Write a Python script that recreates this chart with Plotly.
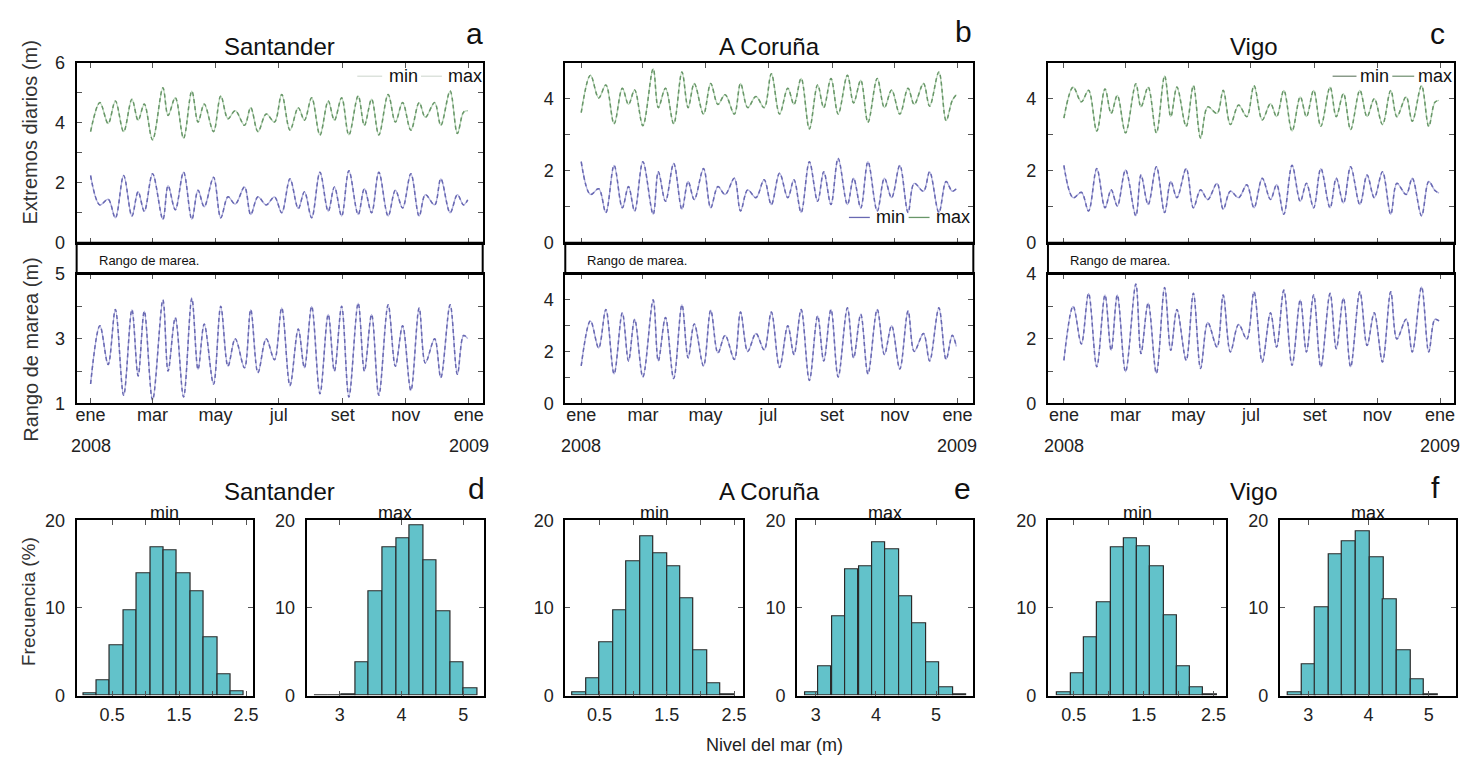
import plotly.graph_objects as go

W, H = 1463, 767
FONT = "Liberation Sans, Arial, sans-serif"

# Turning points of the daily extremes (spring / neap tides), 2008
turn_dates = [
    "2008-01-01", "2008-01-10", "2008-01-18", "2008-01-25", "2008-02-02", "2008-02-10",
    "2008-02-16", "2008-02-22", "2008-03-01", "2008-03-11", "2008-03-16", "2008-03-23",
    "2008-03-31", "2008-04-08", "2008-04-14", "2008-04-20", "2008-04-29", "2008-05-06",
    "2008-05-13", "2008-05-20", "2008-05-29", "2008-06-04", "2008-06-11", "2008-06-19",
    "2008-06-27", "2008-07-04", "2008-07-12", "2008-07-20", "2008-07-26", "2008-08-02",
    "2008-08-10", "2008-08-18", "2008-08-24", "2008-08-31", "2008-09-07", "2008-09-16",
    "2008-09-22", "2008-09-29", "2008-10-06", "2008-10-15", "2008-10-22", "2008-10-29",
    "2008-11-06", "2008-11-14", "2008-11-20", "2008-11-29", "2008-12-05", "2008-12-14",
    "2008-12-21", "2008-12-27", "2008-12-31",
]

# Daily high water (m)
santander_max = [3.70, 4.67, 3.97, 4.72, 3.70, 4.78, 4.08, 4.62, 3.43, 5.16,
                 4.24, 4.83, 3.48, 5.05, 4.02, 4.62, 3.70, 4.89, 4.13, 4.40,
                 3.91, 4.50, 3.70, 4.29, 4.02, 4.94, 3.75, 4.50, 4.08, 4.83,
                 3.59, 4.72, 4.08, 4.83, 3.59, 4.89, 3.91, 4.78, 3.59, 4.94,
                 4.02, 4.67, 3.75, 4.67, 4.18, 4.67, 3.91, 5.05, 3.64, 4.35, 4.40]
coruna_max = [3.61, 4.65, 4.02, 4.38, 3.30, 4.29, 3.84, 4.24, 3.25, 4.83,
              3.75, 4.29, 3.30, 4.74, 3.75, 4.42, 3.57, 4.42, 3.84, 4.11,
              3.57, 4.42, 3.75, 4.06, 3.75, 4.69, 3.57, 4.29, 3.84, 4.56,
              3.16, 4.38, 3.75, 4.56, 3.57, 4.65, 3.88, 4.51, 3.34, 4.56,
              3.75, 4.24, 3.57, 4.29, 3.84, 4.42, 3.79, 4.74, 3.39, 3.95, 4.11]
vigo_max = [3.46, 4.32, 3.91, 4.23, 3.10, 4.27, 3.59, 4.09, 3.05, 4.41,
            3.77, 4.32, 3.05, 4.63, 3.50, 4.32, 3.23, 4.36, 2.91, 3.77,
            3.59, 4.23, 3.28, 3.82, 3.50, 4.36, 3.41, 3.86, 3.50, 4.23,
            3.10, 4.05, 3.50, 4.23, 3.23, 4.32, 3.50, 4.14, 3.14, 4.23,
            3.50, 4.00, 3.28, 4.23, 3.50, 4.05, 3.37, 4.36, 3.23, 3.90, 3.95]

# Daily low water (m)
santander_min = [2.24, 1.26, 1.45, 0.83, 2.24, 0.89, 1.70, 1.05, 2.30, 0.78,
                 1.90, 1.10, 2.35, 0.78, 1.75, 1.20, 2.18, 0.83, 1.53, 1.29,
                 1.86, 0.94, 1.53, 1.26, 1.53, 1.00, 2.13, 1.14, 1.70, 0.83,
                 2.35, 1.05, 1.86, 0.89, 2.40, 0.94, 1.80, 1.00, 2.35, 0.89,
                 1.75, 1.16, 2.30, 0.89, 1.60, 1.26, 2.13, 1.00, 1.60, 1.26, 1.43]
coruna_min = [2.25, 1.34, 1.50, 0.84, 2.15, 0.97, 1.56, 0.88, 2.25, 0.79,
              1.97, 1.15, 2.20, 0.93, 1.70, 1.20, 2.06, 0.97, 1.56, 1.34,
              1.79, 0.88, 1.47, 1.25, 1.75, 1.06, 1.93, 1.25, 1.75, 0.84,
              2.25, 1.15, 1.97, 1.06, 2.34, 1.06, 1.79, 0.97, 2.25, 0.88,
              1.79, 1.25, 2.15, 0.84, 1.65, 1.43, 1.97, 0.84, 1.70, 1.43, 1.50]
vigo_min = [2.15, 1.25, 1.40, 0.88, 2.06, 0.97, 1.47, 1.02, 2.02, 0.75,
            1.88, 1.06, 2.11, 0.84, 1.70, 1.25, 2.06, 0.97, 1.47, 1.20,
            1.65, 0.93, 1.43, 1.25, 1.61, 0.97, 1.79, 1.20, 1.61, 0.79,
            2.15, 1.15, 1.65, 0.97, 2.06, 0.97, 1.79, 1.10, 2.11, 1.06,
            1.88, 1.25, 1.97, 0.79, 1.65, 1.34, 1.79, 0.75, 1.70, 1.45, 1.38]

# Daily tidal range (m)
santander_range = [1.60, 3.40, 2.20, 3.90, 1.25, 3.90, 1.85, 3.85, 1.10, 4.20,
                   2.00, 3.65, 1.20, 4.25, 2.05, 3.45, 1.60, 4.00, 2.15, 3.00,
                   2.10, 3.90, 1.95, 3.00, 2.35, 3.95, 1.55, 3.30, 2.10, 4.00,
                   1.30, 3.75, 2.00, 4.00, 1.20, 4.10, 2.00, 3.75, 1.25, 4.05,
                   2.15, 3.40, 1.40, 3.95, 2.25, 3.00, 1.80, 4.05, 1.90, 3.10, 3.00]
coruna_range = [1.45, 3.19, 2.14, 3.63, 1.14, 3.50, 1.64, 3.25, 1.02, 4.00,
                1.64, 3.32, 0.96, 3.81, 1.76, 3.07, 1.45, 3.60, 1.95, 2.63,
                1.70, 3.53, 2.01, 2.70, 2.07, 3.53, 1.39, 3.00, 1.89, 3.63,
                0.89, 3.38, 1.64, 3.63, 1.02, 3.69, 1.76, 3.44, 1.14, 3.63,
                1.89, 3.00, 1.33, 3.57, 2.01, 2.70, 1.64, 3.69, 1.70, 2.63, 2.20]
vigo_range = [1.33, 3.00, 1.84, 3.40, 1.13, 3.35, 1.64, 3.35, 0.98, 3.69,
              1.54, 3.10, 0.93, 3.58, 1.64, 2.90, 1.33, 3.40, 1.08, 2.50,
              1.74, 3.35, 1.59, 2.44, 1.99, 3.45, 1.28, 2.80, 1.74, 3.50,
              1.18, 3.20, 1.59, 3.35, 1.13, 3.40, 1.69, 3.25, 1.13, 3.45,
              1.79, 2.80, 1.28, 3.45, 1.99, 2.60, 1.59, 3.60, 1.59, 2.60, 2.55]

# Histograms of the daily extremes: bin centres (m) and frequency (%)
santander_min_bins = [0.17, 0.37, 0.57, 0.77, 0.97, 1.17, 1.37, 1.57, 1.77, 1.97, 2.17, 2.37]
santander_min_freq = [0.3, 1.8, 5.7, 9.7, 14.0, 16.9, 16.6, 14.0, 11.9, 6.6, 2.4, 0.45]
santander_max_bins = [2.70, 2.92, 3.14, 3.36, 3.58, 3.80, 4.02, 4.24, 4.46, 4.68, 4.90, 5.12]
santander_max_freq = [0.05, 0.05, 0.15, 3.8, 11.9, 16.9, 17.9, 19.4, 15.4, 9.6, 3.8, 0.8]
coruna_min_bins = [0.20, 0.40, 0.60, 0.80, 1.00, 1.20, 1.40, 1.60, 1.80, 2.00, 2.20, 2.40]
coruna_min_freq = [0.4, 2.0, 6.1, 9.7, 15.3, 18.2, 16.2, 14.7, 11.1, 5.2, 1.4, 0.2]
coruna_max_bins = [2.93, 3.15, 3.38, 3.60, 3.83, 4.05, 4.27, 4.50, 4.72, 4.95, 5.17, 5.39]
coruna_max_freq = [0.4, 3.4, 9.0, 14.4, 14.7, 17.5, 16.7, 11.3, 8.2, 3.8, 1.0, 0.1]
vigo_min_bins = [0.36, 0.55, 0.74, 0.93, 1.12, 1.31, 1.50, 1.69, 1.88, 2.07, 2.26, 2.45]
vigo_min_freq = [0.4, 2.5, 6.6, 10.6, 16.9, 17.9, 17.0, 14.8, 9.2, 3.4, 0.9, 0.2]
vigo_max_bins = [2.78, 3.01, 3.23, 3.46, 3.68, 3.91, 4.14, 4.36, 4.59, 4.81, 5.04]
vigo_max_freq = [0.4, 3.6, 10.1, 16.1, 17.6, 18.8, 15.8, 11.0, 5.2, 1.9, 0.2]

stations = ["Santander", "A Coruña", "Vigo"]
month_ticks = ["2008-01-01", "2008-03-01", "2008-05-01", "2008-07-01",
               "2008-09-01", "2008-11-01", "2009-01-01"]
month_labels = ["ene", "mar", "may", "jul", "set", "nov", "ene"]

series = [
    (santander_min, santander_max, santander_range),
    (coruna_min, coruna_max, coruna_range),
    (vigo_min, vigo_max, vigo_range),
]
hists = [
    ((santander_min_bins, santander_min_freq), (santander_max_bins, santander_max_freq)),
    ((coruna_min_bins, coruna_min_freq), (coruna_max_bins, coruna_max_freq)),
    ((vigo_min_bins, vigo_min_freq), (vigo_max_bins, vigo_max_freq)),
]

# ---- layout geometry (pixels) ----
ts_cols = [(76, 484), (567, 977), (1052, 1460)]
ts_xrange = [("2007-12-18 12:00", "2009-01-14 12:00"),
             ("2007-12-16 12:00", "2009-01-16 12:00"),
             ("2007-12-16 12:00", "2009-01-14 14:00")]
top_y = (54, 239)
low_y = (271, 404)
top_yaxis = [dict(range=[0, 6], vals=[0, 1, 2, 3, 4, 5, 6], show=[0, 2, 4, 6]),
             dict(range=[0, 5], vals=[0, 1, 2, 3, 4, 5], show=[0, 2, 4]),
             dict(range=[0, 5], vals=[0, 1, 2, 3, 4, 5], show=[0, 2, 4])]
low_yaxis = [dict(range=[1, 5], vals=[1, 2, 3, 4, 5], show=[1, 3, 5]),
             dict(range=[0, 5], vals=[0, 1, 2, 3, 4, 5], show=[0, 2, 4]),
             dict(range=[0, 4], vals=[0, 1, 2, 3, 4], show=[0, 2, 4])]
hist_cols = [((76, 253), (307, 485)), ((567, 746), (800, 977)), ((1052, 1231), (1285, 1462))]
hist_y = (524, 704)
hist_xrange = [([-0.03, 2.6], [2.46, 5.33]),
               ([-0.01, 2.64], [2.69, 5.62]),
               ([0.13, 2.68], [2.53, 5.45])]

MIN_COLOR = "rgb(104,104,178)"
MIN_LIGHT = "rgba(150,150,210,0.75)"
MAX_COLOR = "rgb(104,150,104)"
MAX_LIGHT = "rgba(160,200,160,0.75)"
BAR_COLOR = "rgb(98,194,202)"


def fx(x):
    return x / W


def fy(y):
    return 1 - y / H


fig = go.Figure()
layout = dict(
    width=W, height=H, margin=dict(l=0, r=0, t=0, b=0),
    paper_bgcolor="white", plot_bgcolor="white", showlegend=False,
    font=dict(family=FONT, color="#222", size=18),
)

frame = dict(showline=True, linecolor="black", linewidth=2, mirror="ticks",
             ticks="inside", ticklen=5, tickwidth=1, tickcolor="#555",
             showgrid=False, zeroline=False,
             tickfont=dict(family=FONT, size=18, color="#222"))

annotations = []
shapes = []


def add_axis(n, xdom, ydom, xextra, yextra):
    xs = "xaxis" if n == 1 else f"xaxis{n}"
    ys = "yaxis" if n == 1 else f"yaxis{n}"
    ref = "" if n == 1 else str(n)
    layout[xs] = dict(frame, domain=[fx(xdom[0]), fx(xdom[1])], anchor="y" + ref, **xextra)
    layout[ys] = dict(frame, domain=[fy(ydom[1]), fy(ydom[0])], anchor="x" + ref, **yextra)
    return "x" + ref, "y" + ref


def dashed_series(xref, yref, y, light, dark):
    fig.add_trace(go.Scatter(x=turn_dates, y=y, mode="lines", xaxis=xref, yaxis=yref,
                             line=dict(color=light, width=1.3, shape="spline", smoothing=1.0),
                             hoverinfo="skip"))
    fig.add_trace(go.Scatter(x=turn_dates, y=y, mode="lines", xaxis=xref, yaxis=yref,
                             line=dict(color=dark, width=1.5, dash="4px,3px",
                                       shape="spline", smoothing=1.0)))


letters_top = ["a", "b", "c"]
letters_bot = ["d", "e", "f"]
title_x = [280, 772, 1259]
letter_top_xy = [(476, 24), (967, 22), (1443, 24)]
letter_bot_xy = [(478, 491), (966, 491), (1441, 490)]

for i, name in enumerate(stations):
    x0, x1 = ts_cols[i]
    vmin, vmax, vrange = series[i]
    ta, la = top_yaxis[i], low_yaxis[i]

    # extremes panel
    n = 4 * i + 1
    xr, yr = add_axis(
        n, (x0, x1), top_y,
        dict(type="date", range=list(ts_xrange[i]), tickvals=month_ticks,
             showticklabels=False),
        dict(range=ta["range"], tickvals=ta["vals"],
             ticktext=[str(v) if v in ta["show"] else "" for v in ta["vals"]],
             ticklabelstandoff=6))
    dashed_series(xr, yr, vmax, MAX_LIGHT, MAX_COLOR)
    dashed_series(xr, yr, vmin, MIN_LIGHT, MIN_COLOR)

    # tidal range panel
    n = 4 * i + 2
    xr, yr = add_axis(
        n, (x0, x1), low_y,
        dict(type="date", range=list(ts_xrange[i]), tickvals=month_ticks,
             ticktext=month_labels, ticklabelstandoff=-6),
        dict(range=la["range"], tickvals=la["vals"],
             ticktext=[str(v) if v in la["show"] else "" for v in la["vals"]],
             ticklabelstandoff=6))
    dashed_series(xr, yr, vrange, MIN_LIGHT, MIN_COLOR)
    annotations.append(dict(xref=xr, yref="paper", x=month_ticks[0], y=fy(448),
                            text="2008", showarrow=False, font=dict(size=18),
                            xanchor="center", yanchor="middle"))
    annotations.append(dict(xref=xr, yref="paper", x=month_ticks[-1], y=fy(448),
                            text="2009", showarrow=False, font=dict(size=18),
                            xanchor="center", yanchor="middle"))

    # strip between the two panels
    shapes.append(dict(type="rect", xref="paper", yref="paper",
                       x0=fx(x0), x1=fx(x1), y0=fy(top_y[1]), y1=fy(low_y[0]),
                       line=dict(color="black", width=2), fillcolor="rgba(0,0,0,0)"))
    annotations.append(dict(xref="paper", yref="paper", x=fx(x0 + 20), y=fy(257),
                            text="Rango de marea.", showarrow=False,
                            font=dict(size=13, color="#111"),
                            xanchor="left", yanchor="middle"))

    # titles and panel letters
    annotations.append(dict(xref="paper", yref="paper", x=fx(title_x[i]), y=fy(37),
                            text=name, showarrow=False, font=dict(size=24, color="#111"),
                            xanchor="center", yanchor="middle"))
    annotations.append(dict(xref="paper", yref="paper", x=fx(title_x[i]), y=fy(494),
                            text=name, showarrow=False, font=dict(size=24, color="#111"),
                            xanchor="center", yanchor="middle"))
    lx, ly = letter_top_xy[i]
    annotations.append(dict(xref="paper", yref="paper", x=fx(lx), y=fy(ly),
                            text=letters_top[i], showarrow=False,
                            font=dict(size=30, color="#111"),
                            xanchor="center", yanchor="middle"))
    lx, ly = letter_bot_xy[i]
    annotations.append(dict(xref="paper", yref="paper", x=fx(lx), y=fy(ly),
                            text=letters_bot[i], showarrow=False,
                            font=dict(size=30, color="#111"),
                            xanchor="center", yanchor="middle"))

    # histograms
    for k, label in enumerate(["min", "max"]):
        hx0, hx1 = hist_cols[i][k]
        bins, freq = hists[i][k]
        xr_rng = hist_xrange[i][k]
        if k == 0:
            xt = dict(tickvals=[0.5, 1.0, 1.5, 2.0, 2.5],
                      ticktext=["0.5", "", "1.5", "", "2.5"])
        else:
            xt = dict(tickvals=[3, 4, 5], ticktext=["3", "4", "5"])
        n = 4 * i + 3 + k
        xr, yr = add_axis(
            n, (hx0, hx1), hist_y,
            dict(range=xr_rng, ticklabelstandoff=2, **xt),
            dict(range=[0, 20], tickvals=[0, 10, 20], ticktext=["0", "10", "20"],
                 ticklabelstandoff=6))
        width = bins[1] - bins[0]
        fig.add_trace(go.Bar(x=bins, y=freq, width=width, xaxis=xr, yaxis=yr,
                             marker=dict(color=BAR_COLOR,
                                         line=dict(color="#2a2a2a", width=1.2))))
        annotations.append(dict(xref="paper", yref="paper", x=fx((hx0 + hx1) / 2),
                                y=fy(516), text=label, showarrow=False,
                                font=dict(size=18, color="#111"),
                                xanchor="center", yanchor="middle"))

# axis titles
annotations += [
    dict(xref="paper", yref="paper", x=fx(29), y=fy(126), text="Extremos diarios (m)",
         textangle=-90, showarrow=False, font=dict(size=20, color="#333"),
         xanchor="center", yanchor="middle"),
    dict(xref="paper", yref="paper", x=fx(30), y=fy(348), text="Rango de marea (m)",
         textangle=-90, showarrow=False, font=dict(size=20, color="#333"),
         xanchor="center", yanchor="middle"),
    dict(xref="paper", yref="paper", x=fx(27), y=fy(607), text="Frecuencia (%)",
         textangle=-90, showarrow=False, font=dict(size=19, color="#333"),
         xanchor="center", yanchor="middle"),
    dict(xref="paper", yref="paper", x=fx(777), y=fy(755), text="Nivel del mar (m)",
         showarrow=False, font=dict(size=18, color="#222"),
         xanchor="center", yanchor="middle"),
]

# in-panel legends: (line x0, x1, text x, label) for min and max
legend_specs = [
    (68, [(358, 383, 388, "min", "rgb(215,222,215)"), (422, 443, 447, "max", "rgb(215,222,215)")]),
    (213, [(852, 873, 877, "min", MIN_COLOR), (912, 933, 937, "max", MAX_COLOR)]),
    (68, [(1338, 1362, 1364, "min", "rgb(120,140,120)"), (1398, 1420, 1422, "max", "rgb(120,150,120)")]),
]
for ly, items in legend_specs:
    for a, b, tx, label, col in items:
        shapes.append(dict(type="line", xref="paper", yref="paper",
                           x0=fx(a), x1=fx(b), y0=fy(ly), y1=fy(ly),
                           line=dict(color=col, width=1.3)))
        annotations.append(dict(xref="paper", yref="paper", x=fx(tx), y=fy(ly),
                                text=label, showarrow=False,
                                font=dict(size=18, color="#111"),
                                xanchor="left", yanchor="middle"))

layout["annotations"] = annotations
layout["shapes"] = shapes
layout["bargap"] = 0
fig.update_layout(**layout)

fig.write_html("out.html")
